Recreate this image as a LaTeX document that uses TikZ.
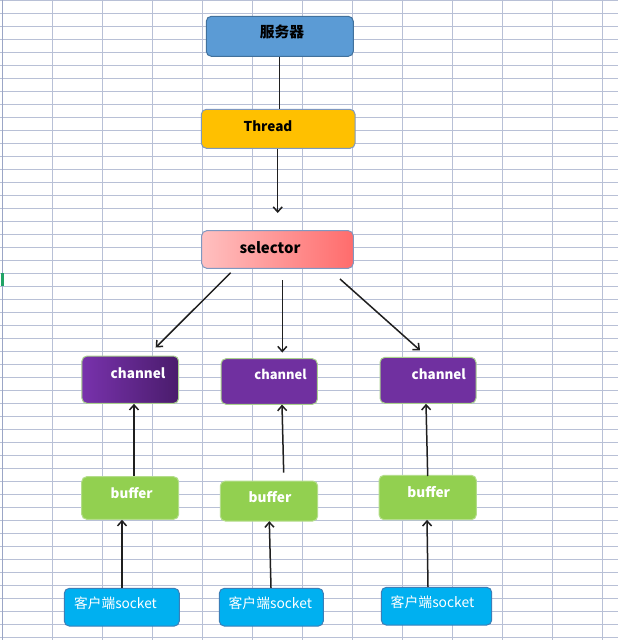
\documentclass[tikz,border=0pt]{standalone}
\usepackage{fontspec}
\usepackage{graphicx}
\newfontfamily\cjk{Noto Sans CJK SC}
\usetikzlibrary{arrows.meta,calc}
\definecolor{gridc}{RGB}{184,192,214}
\definecolor{gridd}{RGB}{155,166,198}
\definecolor{srvfill}{HTML}{5B9BD5}
\definecolor{srvline}{HTML}{41719C}
\definecolor{thrfill}{HTML}{FFC000}
\definecolor{bluegray}{HTML}{7F98C0}
\definecolor{selL}{RGB}{255,192,192}
\definecolor{selR}{RGB}{255,108,108}
\definecolor{chfill}{HTML}{7030A0}
\definecolor{chL}{HTML}{7832AC}
\definecolor{chR}{HTML}{4A1C6C}
\definecolor{chline}{HTML}{A9D18E}
\definecolor{bffill}{HTML}{92D050}
\definecolor{bfline}{HTML}{B4DD8C}
\definecolor{skfill}{HTML}{00B0F0}
\definecolor{skline}{HTML}{3A7FB8}
\definecolor{xlgreen}{HTML}{21A366}
\newcommand\fitw[2]{\resizebox{#1pt}{!}{#2}}
\begin{document}
\begin{tikzpicture}[x=1pt,y=-1pt,
  box/.style={rounded corners=5pt, line width=1pt, inner sep=0pt},
  srvbox/.style={box, fill=srvfill, draw=srvline},
  thrbox/.style={box, fill=thrfill, draw=bluegray},
  selbox/.style={box, left color=selL, right color=selR, draw=bluegray},
  chbox/.style={box, fill=chfill, draw=chline},
  bfbox/.style={box, fill=bffill, draw=bfline},
  skbox/.style={box, fill=skfill, draw=skline},
  lbl/.style={inner sep=0pt, font=\cjk\bfseries, text=white},
  dlbl/.style={inner sep=0pt, font=\cjk\bfseries, text=black},
  slbl/.style={inner sep=0pt, font=\cjk, text=white},
  conn/.style={line width=1.5pt, draw=black!88},
  arr/.style={conn, -{Straight Barb[length=5pt,width=9pt]}}
]
\useasboundingbox (0,0) rectangle (618,640);
\fill[white] (0,0) rectangle (618,640);
% spreadsheet grid
\foreach \k in {0,...,49} \draw[gridc, line width=1.1pt] (0,0.5+13*\k) -- (618,0.5+13*\k);
\foreach \k in {1,...,12} \draw[gridc, line width=1.1pt] (2.5+50*\k,0) -- (2.5+50*\k,640);
\draw[gridd, line width=1.6pt] (2.5,0) -- (2.5,640);
\fill[xlgreen] (1,273) rectangle (3.5,286);

% boxes
\node[srvbox, minimum width=147pt, minimum height=40pt] (srv) at (279.8,36.3) {};
\node[thrbox, minimum width=153.7pt, minimum height=39pt] (thr) at (278.2,128.8) {};
\node[selbox, minimum width=151.6pt, minimum height=37.6pt] (sel) at (277.5,249.5) {};
\node[chbox, left color=chL, right color=chR, minimum width=96.7pt, minimum height=47.3pt] (ch1) at (130.3,379.7) {};
\node[chbox, minimum width=96.3pt, minimum height=45.6pt] (ch2) at (269.2,381.5) {};
\node[chbox, minimum width=96pt, minimum height=46pt] (ch3) at (428,380.3) {};
\node[bfbox, minimum width=97pt, minimum height=42.6pt] (bf1) at (130.2,498) {};
\node[bfbox, minimum width=97.4pt, minimum height=40pt] (bf2) at (269,501) {};
\node[bfbox, minimum width=97.3pt, minimum height=44.4pt] (bf3) at (427.7,497.5) {};
\node[skbox, minimum width=115pt, minimum height=37.7pt] (sk1) at (121.8,607.2) {};
\node[skbox, minimum width=104pt, minimum height=37.7pt] (sk2) at (271.3,607.2) {};
\node[skbox, minimum width=110.4pt, minimum height=37.7pt] (sk3) at (436.5,606.2) {};

% labels
\node[dlbl] (tsrv) at (282,31.7) {\fitw{44.3}{服务器}};
\node[dlbl] (tthr) at (268,125.7) {\fitw{48.7}{Thread}};
\node[dlbl] (tsel) at (270,248) {\fitw{61}{selector}};
\node[lbl] (tch1) at (138,373.3) {\fitw{54.6}{channel}};
\node[lbl] (tch2) at (280.5,374.7) {\fitw{52.3}{channel}};
\node[lbl] (tch3) at (438.8,374) {\fitw{54.3}{channel}};
\node[lbl] (tbf1) at (131.7,493.3) {\fitw{42}{buffer}};
\node[lbl] (tbf2) at (270,496.7) {\fitw{42.7}{buffer}};
\node[lbl] (tbf3) at (428.7,491.7) {\fitw{42.7}{buffer}};
\node[slbl] (tsk1) at (115.5,603.3) {\fitw{82.7}{客户端socket}};
\node[slbl] (tsk2) at (270.3,603) {\fitw{83.3}{客户端socket}};
\node[slbl] (tsk3) at (432.5,602.7) {\fitw{83.6}{客户端socket}};

% free connector ends
\coordinate (thrEnd) at (277.7,213);
\coordinate (s1a) at (230.7,272.7);
\coordinate (s1b) at (155.7,347.5);
\coordinate (s2a) at (282.3,280);
\coordinate (s2b) at (282.3,352.5);
\coordinate (s3a) at (340,279);
\coordinate (s3b) at (420,350.3);
\coordinate (b2a) at (283.7,472.7);
\coordinate (b3a) at (427.7,476);

% connectors
\draw[conn] (srv.south -| 279.7,0) -- (thr.north -| 279.7,0);
\draw[arr] (thr.south -| thrEnd) -- (thrEnd);
\draw[arr] (s1a) -- (s1b);
\draw[arr] (s2a) -- (s2b);
\draw[arr] (s3a) -- (s3b);
\draw[arr] (bf1.north -| 134,0) -- (ch1.south -| 134,0);
\draw[arr] (b2a) -- (282,404.6);
\draw[arr] (b3a) -- (ch3.south -| 426,0);
\draw[arr] (sk1.north -| 122,0) -- (bf1.south -| 122,0);
\draw[arr] (sk2.north -| 271,0) -- (269.3,521.2);
\draw[arr] (sk3.north -| 428,0) -- (427,519.9);
\end{tikzpicture}
\end{document}
